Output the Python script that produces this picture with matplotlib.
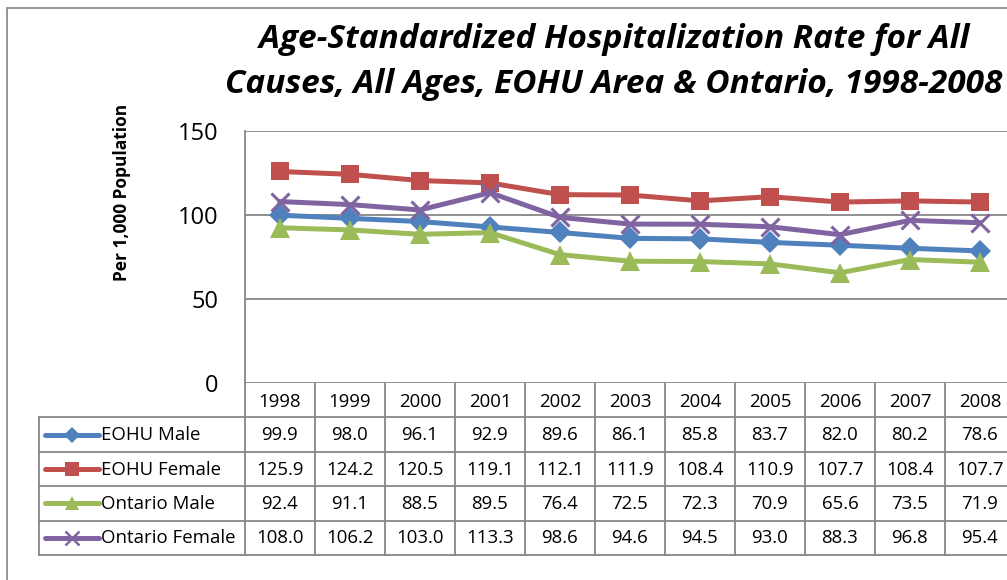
import matplotlib.pyplot as plt
from matplotlib.patches import Rectangle

years = ['1998', '1999', '2000', '2001', '2002', '2003', '2004', '2005', '2006', '2007', '2008']
series_names = ['EOHU Male', 'EOHU Female', 'Ontario Male', 'Ontario Female']
eohu_male = [99.9, 98.0, 96.1, 92.9, 89.6, 86.1, 85.8, 83.7, 82.0, 80.2, 78.6]
eohu_female = [125.9, 124.2, 120.5, 119.1, 112.1, 111.9, 108.4, 110.9, 107.7, 108.4, 107.7]
ontario_male = [92.4, 91.1, 88.5, 89.5, 76.4, 72.5, 72.3, 70.9, 65.6, 73.5, 71.9]
ontario_female = [108.0, 106.2, 103.0, 113.3, 98.6, 94.6, 94.5, 93.0, 88.3, 96.8, 95.4]
y_ticks = [0, 50, 100, 150]

all_series = [eohu_male, eohu_female, ontario_male, ontario_female]
colors = ['#4F81BD', '#C0504D', '#9BBB59', '#8064A2']
markers = ['D', 's', '^', 'x']
msizes = [11, 13, 14, 13]

W, H = 1007, 580
plt.rcParams['font.family'] = ['Open Sans', 'DejaVu Sans']
fig = plt.figure(figsize=(W / 100, H / 100), dpi=100)

# pixel geometry of the plot area (right side runs past the image edge)
left, right = 245, 1015
top, base = 131, 383
row_h = 34.4
tab_bottom = base + 5 * row_h

grid_c = '#878787'
txt_size = 13.4

ax = fig.add_axes([left / W, 1 - base / H, (right - left) / W, (base - top) / H])
x = list(range(len(years)))
for vals, c, m, ms in zip(all_series, colors, markers, msizes):
    ax.plot(x, vals, color=c, lw=3.6, marker=m, ms=ms, mew=2.2 if m == 'x' else 0,
            mec=c, clip_on=False, zorder=3)
ax.set_xlim(-0.5, len(years) - 0.5)
ax.set_ylim(0, 150)
ax.set_yticks(y_ticks)
ax.set_yticklabels([str(t) for t in y_ticks], fontsize=17)
ax.tick_params(axis='y', length=0, pad=19)
ax.set_xticks([])
for yv in y_ticks:
    ax.axhline(yv, color=grid_c, lw=1.3, zorder=1)
for s in ['top', 'right', 'bottom']:
    ax.spines[s].set_visible(False)
ax.spines['left'].set_color(grid_c)
ax.spines['left'].set_linewidth(1.3)
fig.text(122 / W, 1 - 192 / H, 'Per 1,000 Population', rotation=90, ha='center',
         va='center', fontsize=12.5, fontweight='bold')

# data table below the plot, sharing the x scale
tab = fig.add_axes([left / W, 1 - tab_bottom / H, (right - left) / W, 5 * row_h / H])
tab.set_xlim(-0.5, len(years) - 0.5)
tab.set_ylim(5, 0)
tab.axis('off')
leg_left = -0.5 - (left - 39) / ((right - left) / len(years))
lw_t = 1.3
for i in range(len(years) + 1):
    tab.plot([i - 0.5, i - 0.5], [0, 5], color=grid_c, lw=lw_t, clip_on=False)
for r in range(1, 6):
    tab.plot([leg_left, len(years) - 0.5], [r, r], color=grid_c, lw=lw_t, clip_on=False)
tab.plot([leg_left, leg_left], [1, 5], color=grid_c, lw=lw_t, clip_on=False)
for i, yr in enumerate(years):
    tab.text(i, 0.55, yr, ha='center', va='center', fontsize=txt_size)
for r, (name, vals, c, m, ms) in enumerate(zip(series_names, all_series, colors, markers, msizes)):
    yc = r + 1.5
    for i, v in enumerate(vals):
        tab.text(i, yc + 0.02, f'{v:.1f}', ha='center', va='center', fontsize=txt_size)
    x0 = leg_left + 0.09
    x1 = leg_left + 0.86
    tab.plot([x0, x1], [yc, yc], color=c, lw=3.6, solid_capstyle='round', clip_on=False)
    tab.plot([(x0 + x1) / 2], [yc], color=c, marker=m, ms=ms * 0.75,
             mew=1.8 if m == 'x' else 0, mec=c, clip_on=False)
    tab.text(x1 + 0.03, yc + 0.02, name, ha='left', va='center', fontsize=txt_size)

title_kw = dict(ha='center', va='center', fontsize=24, fontweight='bold', fontstyle='italic')
fig.text(614 / W, 1 - 39 / H, 'Age-Standardized Hospitalization Rate for All', **title_kw)
fig.text(614 / W, 1 - 84 / H, 'Causes, All Ages, EOHU Area & Ontario, 1998-2008', **title_kw)

fig.patches.append(Rectangle((7 / W, -0.1), 1.2, 1 - 8 / H + 0.1, transform=fig.transFigure,
                             fill=False, edgecolor='#8c8c8c', lw=1.3))

fig.savefig('out.png', dpi=100)
